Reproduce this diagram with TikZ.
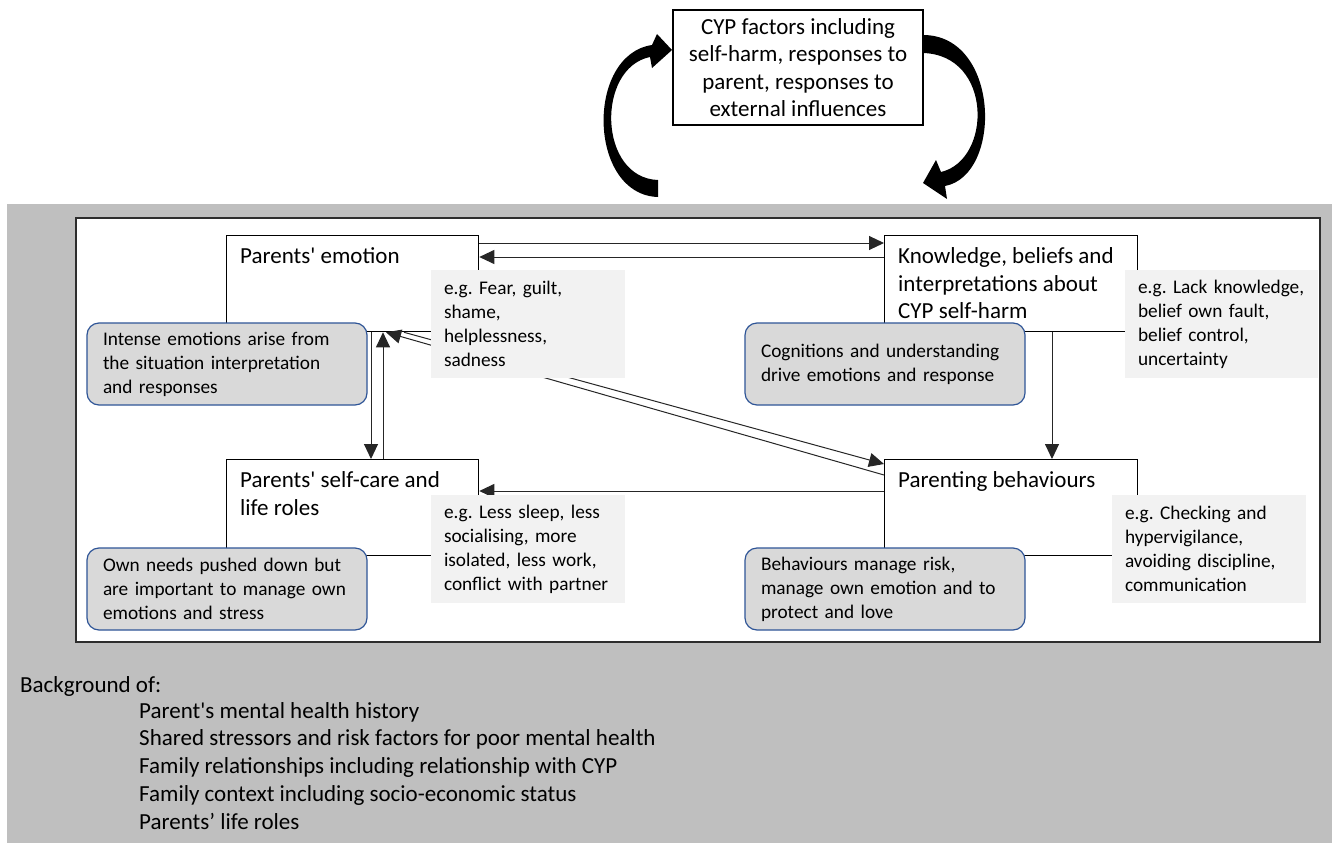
\documentclass[tikz,border=0pt]{standalone}
\usepackage{fontspec}
\setmainfont{Carlito}
\usetikzlibrary{arrows.meta,calc}
\definecolor{BackClr}{RGB}{191,191,191}
\definecolor{FrameClr}{RGB}{45,45,45}
\definecolor{ExClr}{RGB}{242,242,242}
\definecolor{NoteClr}{RGB}{217,217,217}
\definecolor{NoteEdge}{RGB}{47,85,151}
\newcommand{\bigtxt}{\fontsize{23}{27.5}\selectfont}
\newcommand{\smalltxt}{\fontsize{19.3}{24}\selectfont}
\newcommand{\sq}{\textquotesingle}
\frenchspacing
\hyphenpenalty=10000
\exhyphenpenalty=10000

\begin{document}
\begin{tikzpicture}[x=1pt,y=-1pt,
  mainbox/.style={draw=black,line width=1.3pt,fill=white,minimum width=252pt,minimum height=96pt,anchor=north west,inner sep=0pt},
  boxtext/.style={anchor=north west,inner sep=0pt,align=left,font=\bigtxt},
  exbox/.style={fill=ExClr,minimum width=194pt,minimum height=108pt,text width=168pt,inner xsep=13pt,inner ysep=0pt,align=left,font=\smalltxt},
  notebox/.style={draw=NoteEdge,line width=1.2pt,fill=NoteClr,rounded corners=12pt,minimum width=280pt,minimum height=82pt,text width=248pt,inner xsep=16pt,inner ysep=0pt,align=left,font=\smalltxt},
  conn/.style={draw=black!85,line width=1pt,-{Triangle[length=15pt,width=14pt]}}]
\useasboundingbox (0,0) rectangle (1332,843);

\fill[BackClr] (7,204) rectangle (1332,843);
\draw[FrameClr,line width=2pt,fill=white] (76,218) rectangle (1320,642);

\node[draw=black,line width=1.3pt,fill=white,minimum width=250pt,minimum height=115pt,inner sep=0pt,align=center,font=\bigtxt] (cyp) at (798,67.5)
  {CYP factors including\\self-harm, responses to\\parent, responses to\\external influences};

\fill[black] (658,197) .. controls (588,195) and (585,55) .. (652,45) -- (657,34) -- (672,50) -- (652,68) -- (650,57)
  .. controls (596,68) and (598,178) .. (658,180) -- cycle;
\fill[black] (923,35) .. controls (1000,35) and (1003,175) .. (945,186) -- (947,199) -- (923,183) -- (936,160) -- (941,172)
  .. controls (992,160) and (993,55) .. (923,53) -- cycle;

\node[mainbox] (emotion) at (226,235) {};
\node[mainbox,minimum width=253pt] (knowledge) at (884,235) {};
\node[mainbox] (selfcare) at (226,459) {};
\node[mainbox,minimum width=253pt] (parenting) at (884,459) {};

\node[boxtext] (emotion-t) at ([shift={(14pt,-12.5pt)}]emotion.north west) {Parents\sq{} emotion};
\node[boxtext] (knowledge-t) at ([shift={(14pt,-12.5pt)}]knowledge.north west) {Knowledge, beliefs and\\interpretations about\\CYP self-harm};
\node[boxtext] (selfcare-t) at ([shift={(14pt,-12.5pt)}]selfcare.north west) {Parents\sq{} self-care and\\life roles};
\node[boxtext] (parenting-t) at ([shift={(14pt,-12.5pt)}]parenting.north west) {Parenting behaviours};

\draw[conn] ([yshift=-8pt]emotion.north east) -- ([yshift=-8pt]knowledge.north west);
\draw[conn] ([yshift=-22pt]knowledge.north west) -- ([yshift=-22pt]emotion.north east);
\draw[conn] ([xshift=145pt]emotion.south west) -- ([xshift=145pt]selfcare.north west);
\draw[conn] ([xshift=157pt]selfcare.north west) -- ([xshift=157pt]emotion.south west);
\draw[conn] ([xshift=168pt]knowledge.south west) -- ([xshift=168pt]knowledge.south west |- parenting.north);
\draw[conn] ([yshift=-32pt]parenting.north west) -- ([yshift=-32pt]selfcare.north east);
\draw[conn] ([yshift=-16pt]parenting.north west) -- ([xshift=160pt]emotion.south west);
\draw[conn] ([xshift=178pt]emotion.south west) -- ([yshift=-5pt]parenting.north west);

\node[exbox] (ex-emotion) at (528,324) {e.g. Fear, guilt,\\shame,\\helplessness,\\sadness};
\node[exbox,minimum width=193pt,text width=167pt] (ex-knowledge) at (1221.5,324) {\mbox{e.g. Lack knowledge,}\\belief own fault,\\belief control,\\uncertainty};
\node[exbox] (ex-selfcare) at (528,549) {e.g. Less sleep, less\\socialising, more\\isolated, less work,\\conflict with partner};
\node[exbox] (ex-parenting) at (1209,549) {e.g. Checking and\\hypervigilance,\\avoiding discipline,\\communication};

\node[notebox] (note-emotion) at (227,364) {Intense emotions arise from\\the situation interpretation\\and responses};
\node[notebox] (note-knowledge) at (885,364) {Cognitions and understanding\\drive emotions and response};
\node[notebox] (note-selfcare) at (227,589) {Own needs pushed down but\\are important to manage own\\emotions and stress};
\node[notebox] (note-parenting) at (885,589) {Behaviours manage risk,\\manage own emotion and to\\protect and love};

\node[anchor=base west,inner sep=0pt,font=\bigtxt] (bg-title) at (20,692) {Background of:};
\node[anchor=north west,inner sep=0pt,align=left,font=\fontsize{23}{27.75}\selectfont] (bg-list) at (139,702)
  {Parent\sq{}s mental health history\\Shared stressors and risk factors for poor mental health\\Family relationships including relationship with CYP\\Family context including socio-economic status\\Parents’ life roles};
\end{tikzpicture}
\end{document}
